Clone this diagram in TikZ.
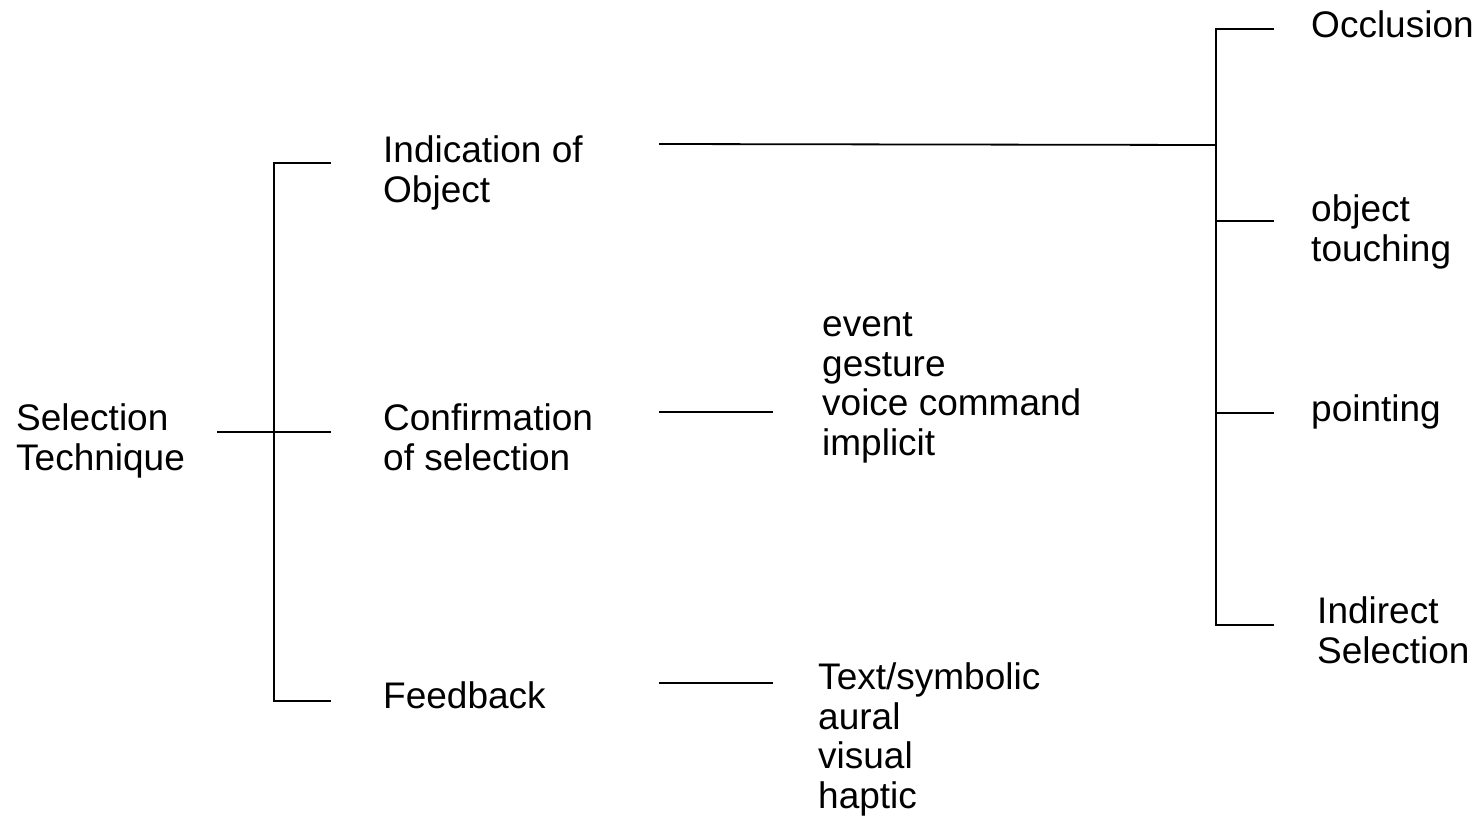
\documentclass[tikz,border=0pt]{standalone}
\usepackage{fontspec}
\setmainfont{Liberation Sans}
\begin{document}
\begin{tikzpicture}[x=1pt,y=-1pt,
  label/.style={anchor=base west,inner sep=0pt,align=left,
    font=\fontsize{37}{39.5}\selectfont},
  wire/.style={line width=1.8pt,line cap=butt}]
\useasboundingbox (0,0) rectangle (1479,817);
% labels (anchored at the baseline of their last line)
\node[label] (sel)  at (16,470)   {Selection\\Technique};
\node[label] (ind)  at (383,202)  {Indication of\\Object};
\node[label] (conf) at (383,470)  {Confirmation\\of selection};
\node[label] (fb)   at (383,708)  {Feedback};
\node[label] (cmode) at (822,455) {event\\gesture\\voice command\\implicit};
\node[label] (fmode) at (818,808) {Text/symbolic\\aural\\visual\\haptic};
\node[label] (occ)  at (1311,37)  {Occlusion};
\node[label] (touch) at (1311,261) {object\\touching};
\node[label] (point) at (1311,421) {pointing};
\node[label] (indir) at (1317,663) {Indirect\\Selection};
% bracket points
\coordinate (rootE) at (217,432);
\coordinate (lt) at (274,163);
\coordinate (lb) at (274,701);
\coordinate (indE) at (331,163);
\coordinate (confE) at (331,432);
\coordinate (fbE) at (331,701);
\coordinate (indO) at (659,144);
\coordinate (rm) at (1216,145);
\coordinate (rt) at (1216,29);
\coordinate (r2) at (1216,221);
\coordinate (r3) at (1216,413);
\coordinate (rb) at (1216,625);
\coordinate (occE) at (1274,29);
\coordinate (touchE) at (1274,221);
\coordinate (pointE) at (1274,413);
\coordinate (indirE) at (1274,625);
\coordinate (confO) at (659,412);
\coordinate (cmodeE) at (773,412);
\coordinate (fbO) at (659,683);
\coordinate (fmodeE) at (773,683);
% left bracket
\draw[wire] (indE) -- (lt) -- (lb) -- (fbE);
\draw[wire] (rootE) -- (confE);
% right bracket
\draw[wire] (occE) -- (rt) -- (rb) -- (indirE);
\draw[wire] (indO) -- (rm);
\draw[wire] (r2) -- (touchE);
\draw[wire] (r3) -- (pointE);
% single links
\draw[wire] (confO) -- (cmodeE);
\draw[wire] (fbO) -- (fmodeE);
\end{tikzpicture}
\end{document}
